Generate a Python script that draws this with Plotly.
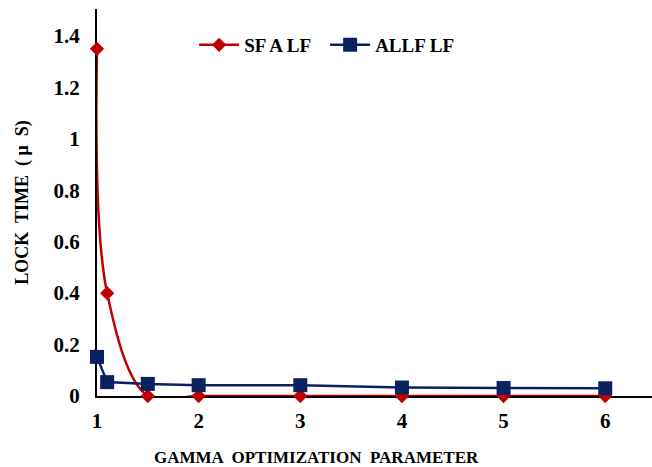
import plotly.graph_objects as go

gamma = [1, 1.1, 1.5, 2, 3, 4, 5, 6]
sfa_lf = [1.35, 0.40, 0.0, 0.0, 0.0, 0.0, 0.0, 0.0]
allf_lf = [0.152, 0.054, 0.047, 0.042, 0.042, 0.033, 0.031, 0.030]
x_ticks = [1, 2, 3, 4, 5, 6]
y_ticks = [0, 0.2, 0.4, 0.6, 0.8, 1, 1.2, 1.4]

font_family = "Liberation Serif, Times New Roman, serif"

fig = go.Figure()
fig.add_trace(go.Scatter(
    x=gamma, y=sfa_lf, name="<b>SF A LF</b>", mode="lines+markers",
    line=dict(color="#C00000", width=2.5, shape="spline", smoothing=1.0),
    marker=dict(symbol="diamond", size=11, color="#C00000"),
    cliponaxis=False,
))
fig.add_trace(go.Scatter(
    x=gamma, y=allf_lf, name="<b>ALLF LF</b>", mode="lines+markers",
    line=dict(color="#0B2160", width=2.5),
    marker=dict(symbol="square", size=14, color="#0B2160"),
    cliponaxis=False,
))

fig.update_layout(
    width=652, height=467,
    margin=dict(l=97, r=0, t=9, b=71),
    paper_bgcolor="white", plot_bgcolor="white",
    font=dict(family=font_family, color="black", size=15),
    legend=dict(orientation="h", x=0.175, y=0.907, xanchor="left", yanchor="middle",
                font=dict(size=19, family=font_family), bgcolor="rgba(0,0,0,0)",
                itemwidth=40, tracegroupgap=0, entrywidth=76),
    showlegend=True,
    annotations=[dict(
        text="<b>GAMMA  OPTIMIZATION  PARAMETER</b>", xref="paper", yref="paper",
        x=0.395, y=-0.160, xanchor="center", yanchor="middle", showarrow=False,
        font=dict(size=17, family=font_family, color="black"),
    )],
)
fig.update_xaxes(
    range=[1, 6.46], tickvals=x_ticks, ticktext=[f"<b>{v}</b>" for v in x_ticks],
    showgrid=False, zeroline=False, showline=True, linecolor="black", linewidth=2,
    layer="below traces",
    ticks="", ticklabelstandoff=5, tickfont=dict(size=21),
)
fig.update_yaxes(
    range=[0, 1.505], tickvals=y_ticks, ticktext=[f"<b>{v:g}</b>" for v in y_ticks],
    showgrid=False, zeroline=False, showline=True, linecolor="black", linewidth=2,
    layer="below traces",
    ticks="", ticklabelstandoff=11, tickfont=dict(size=21),
    title=dict(text="<b>LOCK  TIME  ( μ  S)</b>", font=dict(size=18), standoff=20),
)

fig.write_html("out.html", config={"displayModeBar": False},
               post_script="document.body.style.margin='0';document.body.style.overflow='hidden';")
